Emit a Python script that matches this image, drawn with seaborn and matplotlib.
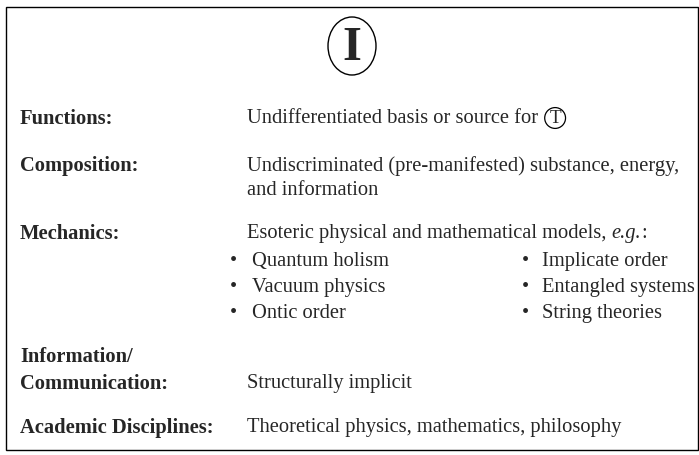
import matplotlib
matplotlib.use("Agg")
import matplotlib.pyplot as plt
import seaborn as sns
from matplotlib.patches import Ellipse, Rectangle

sns.set_style("white")
plt.rcParams['font.family'] = ['Liberation Serif', 'DejaVu Serif']

# table content
row_labels = ["Functions:", "Composition:", "Mechanics:", "Information/", "Communication:", "Academic Disciplines:"]
row_label_y = [119, 166, 234, 357, 384, 428]
functions_text = "Undifferentiated basis or source for"
composition_text = ["Undiscriminated (pre-manifested) substance, energy,", "and information"]
mechanics_text = "Esoteric physical and mathematical models, "
bullets_left = ["Quantum holism", "Vacuum physics", "Ontic order"]
bullets_right = ["Implicate order", "Entangled systems", "String theories"]
bullet_y = [262, 288, 314]
info_text = "Structurally implicit"
academic_text = "Theoretical physics, mathematics, philosophy"

fig = plt.figure(figsize=(6.99, 4.56), dpi=100)
ax = fig.add_axes([0, 0, 1, 1])
ax.set_xlim(0, 699)
ax.set_ylim(456, 0)
ax.axis("off")

fs = 14.8
ax.add_patch(Rectangle((6, 8), 692, 443, fill=False, lw=1.0, ec="black"))

# header circled I
ax.add_patch(Ellipse((352, 47), 48, 58, fill=False, lw=1.0, ec="black"))
ax.text(352, 48, "I", fontsize=35, fontweight="bold", ha="center", va="center")


def text_end(t):
    fig.canvas.draw()
    return t.get_window_extent().transformed(ax.transData.inverted()).x1


# labels
for lab, y in zip(row_labels, row_label_y):
    ax.text(20, y, lab, fontsize=fs, fontweight="bold", va="center")

xc = 247
t = ax.text(xc, row_label_y[0], functions_text, fontsize=fs, va="center")
ax.text(text_end(t) + 17, row_label_y[0], "T", fontsize=fs - 1, ha="center", va="center",
        bbox=dict(boxstyle="circle,pad=0.1", fc="none", ec="black", lw=0.9))

ax.text(xc, 166, composition_text[0], fontsize=fs, va="center")
ax.text(xc, 191, composition_text[1], fontsize=fs, va="center")

t = ax.text(xc, row_label_y[2], mechanics_text, fontsize=fs, va="center")
t2 = ax.text(text_end(t), row_label_y[2], "e.g.", fontsize=fs, style="italic", va="center")
ax.text(text_end(t2), row_label_y[2], ":", fontsize=fs, va="center")

for y, a, b in zip(bullet_y, bullets_left, bullets_right):
    ax.text(233, y, "\u2022", fontsize=fs, va="center", ha="center")
    ax.text(252, y, a, fontsize=fs, va="center")
    ax.text(525, y, "\u2022", fontsize=fs, va="center", ha="center")
    ax.text(542, y, b, fontsize=fs, va="center")

ax.text(xc, row_label_y[4], info_text, fontsize=fs, va="center")
ax.text(xc, row_label_y[5], academic_text, fontsize=fs, va="center")

fig.savefig("out.png", dpi=100)
